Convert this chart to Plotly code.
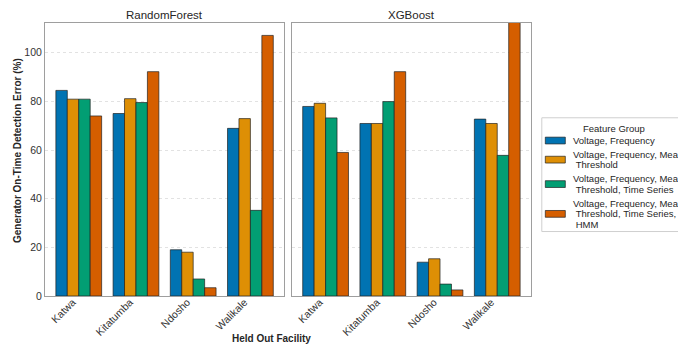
import plotly.graph_objects as go

# Held-out facilities and feature groups
facilities = ["Katwa", "Kitatumba", "Ndosho", "Walikale"]
feature_groups = [
    "Voltage, Frequency",
    "Voltage, Frequency, Mean Threshold",
    "Voltage, Frequency, Mean Threshold, Time Series",
    "Voltage, Frequency, Mean Threshold, Time Series, HMM",
]
# Wrapped legend labels (one list of lines per feature group)
legend_lines = [
    ["Voltage, Frequency"],
    ["Voltage, Frequency, Mean", " Threshold"],
    ["Voltage, Frequency, Mean", " Threshold, Time Series"],
    ["Voltage, Frequency, Mean", " Threshold, Time Series,", " HMM"],
]
models = ["RandomForest", "XGBoost"]

# Generator on-time detection error (%) per feature group, ordered by facility
rf_error = [
    [84.5, 75.0, 19.0, 68.9],
    [80.9, 81.1, 18.0, 72.9],
    [80.9, 79.5, 7.0, 35.2],
    [74.0, 92.2, 3.4, 107.1],
]
xgb_error = [
    [77.9, 70.9, 13.9, 72.7],
    [79.2, 70.9, 15.3, 70.9],
    [73.2, 79.9, 4.9, 57.8],
    [59.0, 92.2, 2.5, 118.0],
]

colors = ["#0173B2", "#DE8F05", "#029E73", "#D55E00"]

W, H = 678, 346
ML, MR, MT, MB = 45, 147.3, 22.7, 49.7
PW, PH = W - ML - MR, H - MT - MB
FONT = "Liberation Sans, Arial, sans-serif"


def px_x(x):
    return (x - ML) / PW


def px_y(y):
    return (H - MB - y) / PH


fig = go.Figure()
for panel, (model, data) in enumerate(zip(models, [rf_error, xgb_error])):
    axis_suffix = "" if panel == 0 else "2"
    for g, (name, vals) in enumerate(zip(feature_groups, data)):
        fig.add_trace(go.Bar(
            x=facilities, y=vals, name=name,
            marker=dict(color=colors[g], line=dict(color="rgba(30,30,30,0.85)", width=0.8)),
            xaxis="x" + axis_suffix, yaxis="y" + axis_suffix,
            showlegend=False, offsetgroup=str(g),
        ))

axis_common = dict(
    showline=True, mirror=True, linecolor="#9e9e9e", linewidth=1,
    ticks="", zeroline=False,
)
xaxis_common = dict(
    range=[-0.59, 3.59], tickangle=-45, showgrid=False,
    ticklabelstandoff=-5, ticklabelshift=-6,
    tickfont=dict(size=10.5, color="#333333"), **axis_common,
)
grid_common = dict(showgrid=True, gridcolor="#e2e2e2", gridwidth=0.7, griddash="dot")
fig.update_layout(
    width=W, height=H,
    margin=dict(l=ML, r=MR, t=MT, b=MB, autoexpand=False),
    paper_bgcolor="white", plot_bgcolor="white",
    font=dict(family=FONT, size=10, color="#333333"),
    barmode="group", bargap=0.2, bargroupgap=0,
    xaxis=dict(domain=[0, 0.4921], **xaxis_common),
    xaxis2=dict(domain=[0.5079, 1], **xaxis_common),
    yaxis=dict(range=[0, 112.2], tickvals=[0, 20, 40, 60, 80, 100],
               tickfont=dict(size=10.5, color="#333333"), **grid_common, **axis_common),
    yaxis2=dict(range=[0, 112.2], tickvals=[0, 20, 40, 60, 80, 100], anchor="x2",
                showticklabels=False, matches="y", **grid_common, **axis_common),
)

annotations = []
# Panel titles
for model, (x0, x1) in zip(models, [(0, 0.4921), (0.5079, 1)]):
    annotations.append(dict(
        text=model, x=(x0 + x1) / 2, y=1, xref="paper", yref="paper",
        xanchor="center", yanchor="bottom", showarrow=False,
        font=dict(size=11.5, color="#262626"),
    ))
# Axis titles
annotations.append(dict(
    text="<b>Held Out Facility</b>", x=px_x(271.3), y=px_y(339),
    xref="paper", yref="paper", xanchor="center", yanchor="middle",
    showarrow=False, font=dict(size=10, color="#262626"),
))
annotations.append(dict(
    text="<b>Generator On-Time Detection Error (%)</b>", x=px_x(17.3), y=px_y(150.7),
    xref="paper", yref="paper", xanchor="center", yanchor="middle", textangle=-90,
    showarrow=False, font=dict(size=10, color="#262626"),
))

# Legend box drawn as shapes and text
shapes = [dict(
    type="rect", xref="paper", yref="paper",
    x0=px_x(541.5), x1=px_x(690), y0=px_y(231.7), y1=px_y(117.7),
    line=dict(color="#cfcfcf", width=1), fillcolor="white", layer="above",
)]
annotations.append(dict(
    text="Feature Group", x=px_x(613.2), y=px_y(128.3), xref="paper", yref="paper",
    xanchor="center", yanchor="middle", showarrow=False,
    font=dict(size=9.5, color="#262626"),
))
line_step = 10.7
item_gap = 13.8
y_line = 140.5
for g, lines in enumerate(legend_lines):
    first = y_line
    for k, ln in enumerate(lines):
        annotations.append(dict(
            text=ln.replace(" ", "&nbsp;") if ln.startswith(" ") else ln,
            x=px_x(570.5), y=px_y(y_line), xref="paper", yref="paper",
            xanchor="left", yanchor="middle", showarrow=False,
            font=dict(size=9.5, color="#262626"),
        ))
        if k < len(lines) - 1:
            y_line += line_step
    mid = (first + y_line) / 2
    shapes.append(dict(
        type="rect", xref="paper", yref="paper",
        x0=px_x(545), x1=px_x(565), y0=px_y(mid + 3.4), y1=px_y(mid - 3.4),
        fillcolor=colors[g], line=dict(color="rgba(30,30,30,0.85)", width=0.8),
        layer="above",
    ))
    y_line += item_gap

fig.update_layout(annotations=annotations, shapes=shapes)
fig.write_html("out.html")
